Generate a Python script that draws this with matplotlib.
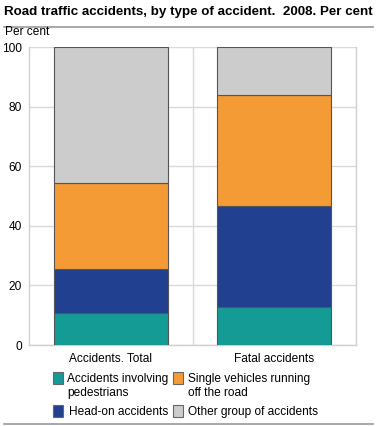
import matplotlib
matplotlib.use("Agg")
import matplotlib.pyplot as plt
from matplotlib.patches import Rectangle
from matplotlib.lines import Line2D
import numpy as np

categories = ["Accidents. Total", "Fatal accidents"]
series_names = ["Accidents involving\npedestrians", "Head-on accidents",
                "Single vehicles running\noff the road", "Other group of accidents"]
pedestrians = [10.6, 12.6]
head_on = [14.9, 34.0]
single_vehicle = [29.0, 37.3]
other = [45.5, 16.1]
yticks = [0, 20, 40, 60, 80, 100]

colors = ["#159b96", "#21408f", "#f59b36", "#cccccc"]

W, H = 377, 426
fig = plt.figure(figsize=(W / 100, H / 100), dpi=100)
plt.rcParams['font.family'] = ['Liberation Sans', 'DejaVu Sans']
FS = 8.6

def fx(x): return x / W
def fy(y): return 1 - y / H

ax = fig.add_axes([fx(29), fy(345), fx(356) - fx(29), fy(47) - fy(345)])
x = np.arange(len(categories))
bottom = np.zeros(len(categories))
for vals, c in zip([pedestrians, head_on, single_vehicle, other], colors):
    ax.bar(x, vals, width=0.7, bottom=bottom, color=c, edgecolor="#555555",
           linewidth=0.8, zorder=3)
    bottom += np.array(vals)

ax.set_xlim(-0.5, 1.5)
ax.set_ylim(0, 100)
ax.set_yticks(yticks)
ax.set_xticks(x)
ax.set_xticklabels(categories, fontsize=FS)
ax.tick_params(axis='y', labelsize=FS, length=0, pad=5)
ax.tick_params(axis='x', length=0, pad=6)
ax.yaxis.grid(True, color="#d9d9d9", linewidth=1, zorder=0)
ax.axvline(0.5, color="#d9d9d9", linewidth=1, zorder=0)
ax.spines["top"].set_visible(False)
for s in ["left", "right", "bottom"]:
    ax.spines[s].set_color("#d0d0d0")
    ax.spines[s].set_linewidth(1)

fig.text(fx(4), fy(12), "Road traffic accidents, by type of accident.  2008. Per cent",
         fontsize=9.6, fontweight="bold", va="center", ha="left")
fig.add_artist(Line2D([fx(4), fx(373)], [fy(27), fy(27)], color="#999999", linewidth=1.2))
fig.text(fx(5), fy(32), "Per cent", fontsize=FS, va="center", ha="left")
fig.add_artist(Line2D([fx(4), fx(373)], [fy(424), fy(424)], color="#999999", linewidth=1.2))

# legend (manual layout, 2 columns)
leg = [
    (53, 372, 67, [379, 393], series_names[0], colors[0]),
    (173, 372, 188, [379, 393], series_names[2], colors[2]),
    (53, 405, 69, [412], series_names[1], colors[1]),
    (173, 405, 188, [412], series_names[3], colors[3]),
]
for px, py, tx, tys, label, c in leg:
    fig.add_artist(Rectangle((fx(px), fy(py + 12)), fx(10), 12 / H, facecolor=c,
                             edgecolor="#666666", linewidth=0.8, transform=fig.transFigure))
    for line, ty in zip(label.split("\n"), tys):
        fig.text(fx(tx), fy(ty), line, fontsize=FS, va="center", ha="left")

fig.savefig("out.png", dpi=100)
